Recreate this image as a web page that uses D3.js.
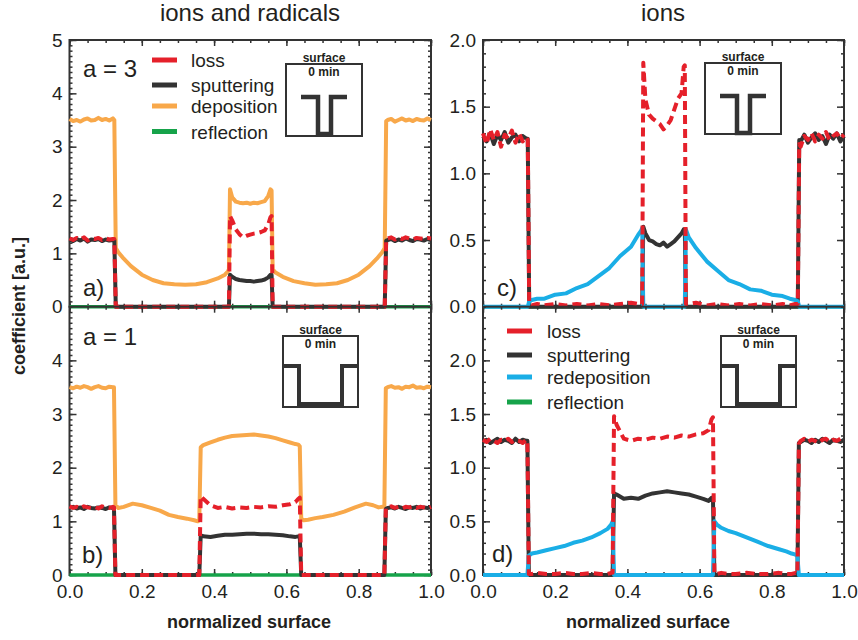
<!DOCTYPE html>
<html><head><meta charset="utf-8">
<script src="https://cdn.jsdelivr.net/npm/d3@7"></script>
<style>
body{margin:0;background:#fff}
svg{display:block}
text{font-family:"Liberation Sans",Arial,Helvetica,sans-serif;fill:#231f20}
</style>
</head><body>
<svg id="chart" width="858" height="640"></svg>
<script>
// ---------------- DATA ----------------
const xTickLabels = [0, 0.2, 0.4, 0.6, 0.8, 1.0];
const yTicksA = [0, 1, 2, 3, 4, 5];
const yTicksB = [0, 1, 2, 3, 4];
const yTicksC = [0, 0.5, 1.0, 1.5, 2.0];
const yTicksD = [0, 0.5, 1.0, 1.5, 2.0];

// x positions, narrow-trench panels (a, c)
const xNarrow = [0,0.01,0.02,0.03,0.04,0.05,0.06,0.07,0.08,0.09,0.10,0.11,0.12,
 0.124,0.128,
 0.135,0.15,0.17,0.2,0.23,0.26,0.29,0.32,0.35,0.38,0.41,0.43,0.438,
 0.441,0.444,
 0.45,0.46,0.47,0.48,0.49,0.5,0.51,0.52,0.53,0.54,0.55,0.556,
 0.559,0.562,
 0.57,0.59,0.62,0.65,0.68,0.71,0.74,0.77,0.8,0.83,0.85,0.865,
 0.872,0.876,
 0.88,0.89,0.9,0.91,0.92,0.93,0.94,0.95,0.96,0.97,0.98,0.99,1.0];

// x positions, wide-trench panels (b, d)
const xWide = [0,0.01,0.02,0.03,0.04,0.05,0.06,0.07,0.08,0.09,0.10,0.11,0.12,
 0.123,0.127,
 0.135,0.15,0.175,0.2,0.225,0.25,0.275,0.3,0.325,0.345,0.355,
 0.359,0.363,
 0.37,0.39,0.41,0.43,0.45,0.47,0.49,0.51,0.53,0.55,0.57,0.59,0.61,0.625,0.633,
 0.637,0.641,
 0.648,0.66,0.68,0.7,0.73,0.76,0.79,0.82,0.84,0.855,0.866,
 0.871,0.875,
 0.88,0.89,0.9,0.91,0.92,0.93,0.94,0.95,0.96,0.97,0.98,0.99,1.0];

const xReflection = [0, 1];
const reflection = [0, 0];

// panel a: ions and radicals, a = 3
const depositionA = [3.52,3.48,3.5,3.47,3.51,3.53,3.49,3.5,3.54,3.5,3.52,3.49,3.53,
 3.5,1.1,
 1.02,0.9,0.76,0.6,0.5,0.44,0.42,0.41,0.42,0.46,0.53,0.6,0.66,
 0.7,2.2,
 2.05,1.97,1.95,1.94,1.95,1.93,1.95,1.94,1.96,1.98,2.08,2.2,
 2.18,0.7,
 0.64,0.56,0.48,0.44,0.41,0.42,0.44,0.5,0.6,0.76,0.9,1.02,
 1.1,3.48,
 3.5,3.52,3.47,3.5,3.53,3.49,3.51,3.48,3.52,3.5,3.49,3.53,3.5];
const sputteringA = [1.26,1.23,1.27,1.24,1.28,1.22,1.26,1.25,1.27,1.23,1.26,1.24,1.25,
 1.25,0,
 0,0,0,0,0,0,0,0,0,0,0,0,0,
 0,0.6,
 0.56,0.52,0.5,0.49,0.48,0.48,0.47,0.48,0.49,0.51,0.55,0.6,
 0.6,0,
 0,0,0,0,0,0,0,0,0,0,0,0,
 0,1.24,
 1.25,1.27,1.23,1.26,1.24,1.28,1.25,1.23,1.27,1.26,1.24,1.27,1.25];
const lossA = [1.28,1.25,1.29,1.26,1.3,1.24,1.28,1.27,1.29,1.25,1.28,1.26,1.27,
 1.27,0,
 0,0,0,0,0,0,0,0,0,0,0,0,0,
 0,1.7,
 1.62,1.45,1.36,1.3,1.33,1.35,1.37,1.38,1.4,1.43,1.55,1.68,
 1.7,0,
 0,0,0,0,0,0,0,0,0,0,0,0,
 0,1.27,
 1.28,1.3,1.26,1.29,1.27,1.3,1.28,1.26,1.29,1.28,1.27,1.29,1.28];

// panel b: ions and radicals, a = 1
const depositionB = [3.5,3.48,3.51,3.49,3.52,3.5,3.47,3.5,3.52,3.49,3.48,3.51,3.5,
 3.5,1.3,
 1.25,1.27,1.33,1.3,1.25,1.2,1.12,1.08,1.05,1.02,1.0,
 1.02,2.38,
 2.42,2.47,2.52,2.56,2.59,2.6,2.61,2.62,2.6,2.58,2.55,2.51,2.47,2.44,2.43,
 2.4,1.05,
 1.02,1.03,1.06,1.08,1.12,1.18,1.26,1.33,1.3,1.26,1.27,
 1.28,3.48,
 3.5,3.52,3.49,3.5,3.47,3.51,3.5,3.53,3.49,3.5,3.48,3.51,3.5];
const sputteringB = [1.25,1.27,1.24,1.26,1.23,1.27,1.25,1.24,1.26,1.25,1.23,1.26,1.25,
 1.25,0,
 0,0,0,0,0,0,0,0,0,0,0,
 0,0.74,
 0.72,0.71,0.73,0.75,0.75,0.76,0.77,0.77,0.76,0.76,0.75,0.74,0.72,0.71,0.72,
 0.72,0,
 0,0,0,0,0,0,0,0,0,0,0,
 0,1.23,
 1.25,1.26,1.24,1.27,1.25,1.23,1.26,1.25,1.27,1.24,1.26,1.25,1.26];
const lossB = [1.28,1.25,1.27,1.24,1.28,1.26,1.25,1.27,1.24,1.28,1.26,1.25,1.27,
 1.26,0,
 0,0,0,0,0,0,0,0,0,0,0,
 0,1.47,
 1.42,1.3,1.25,1.27,1.24,1.26,1.25,1.27,1.26,1.28,1.27,1.3,1.32,1.36,1.42,
 1.44,0,
 0,0,0,0,0,0,0,0,0,0,0,
 0,1.25,
 1.26,1.28,1.25,1.27,1.24,1.27,1.26,1.28,1.25,1.27,1.26,1.24,1.27];

// panel c: ions, a = 3
const lossC = [1.3,1.22,1.33,1.25,1.31,1.2,1.29,1.26,1.32,1.23,1.3,1.24,1.27,
 1.25,0.02,
 0.01,0.02,0.01,0.02,0.01,0.02,0.01,0.02,0.01,0.02,0.03,0.02,0.02,
 0.02,1.83,
 1.55,1.44,1.41,1.39,1.37,1.33,1.36,1.4,1.48,1.56,1.6,1.8,
 1.81,0.02,
 0.02,0.03,0.01,0.02,0.01,0.02,0.01,0.02,0.01,0.02,0.01,0.02,
 0.02,1.22,
 1.2,1.28,1.25,1.3,1.24,1.29,1.26,1.31,1.25,1.28,1.3,1.26,1.29];
const sputteringC = [1.28,1.24,1.3,1.22,1.29,1.25,1.31,1.23,1.27,1.29,1.24,1.28,1.26,
 1.26,0,
 0,0,0,0,0,0,0,0,0,0,0,0,0,
 0,0.6,
 0.55,0.5,0.49,0.47,0.46,0.48,0.45,0.47,0.49,0.52,0.55,0.58,
 0.58,0,
 0,0,0,0,0,0,0,0,0,0,0,0,
 0,1.25,
 1.24,1.29,1.23,1.27,1.3,1.25,1.28,1.22,1.29,1.26,1.3,1.24,1.28];
const redepositionC = [0,0,0,0,0,0,0,0,0,0,0,0,0,
 0,0.04,
 0.05,0.06,0.06,0.09,0.1,0.14,0.17,0.23,0.29,0.38,0.45,0.54,0.57,
 0.59,0,
 0,0,0,0,0,0,0,0,0,0,0,0,
 0,0.58,
 0.52,0.44,0.34,0.27,0.2,0.17,0.13,0.12,0.09,0.08,0.06,0.05,
 0.04,0,
 0,0,0,0,0,0,0,0,0,0,0,0,0];

// panel d: ions, a = 1
const lossD = [1.26,1.24,1.27,1.25,1.23,1.26,1.25,1.27,1.24,1.26,1.25,1.23,1.26,
 1.25,0.01,
 0.01,0.02,0.01,0.01,0.02,0.01,0.01,0.02,0.01,0.01,0.02,
 0.02,1.48,
 1.4,1.27,1.25,1.27,1.26,1.28,1.27,1.29,1.28,1.3,1.29,1.31,1.32,1.35,1.45,
 1.47,0.01,
 0.01,0.02,0.01,0.01,0.02,0.01,0.01,0.02,0.01,0.01,0.02,
 0.01,1.22,
 1.25,1.27,1.24,1.26,1.25,1.23,1.26,1.27,1.24,1.26,1.25,1.27,1.24];
const sputteringD = [1.24,1.26,1.23,1.25,1.27,1.24,1.26,1.25,1.23,1.27,1.24,1.26,1.25,
 1.25,0,
 0,0,0,0,0,0,0,0,0,0,0,
 0,0.76,
 0.75,0.71,0.72,0.71,0.74,0.76,0.77,0.78,0.77,0.76,0.75,0.73,0.71,0.69,0.72,
 0.72,0,
 0,0,0,0,0,0,0,0,0,0,0,
 0,1.23,
 1.24,1.26,1.25,1.23,1.26,1.24,1.27,1.25,1.23,1.26,1.25,1.24,1.26];
const redepositionD = [0,0,0,0,0,0,0,0,0,0,0,0,0,
 0,0.18,
 0.2,0.21,0.23,0.25,0.27,0.3,0.32,0.35,0.39,0.43,0.47,
 0.5,0,
 0,0,0,0,0,0,0,0,0,0,0,0,0,0,0,
 0,0.5,
 0.47,0.44,0.41,0.39,0.35,0.31,0.27,0.24,0.22,0.2,0.19,
 0.17,0,
 0,0,0,0,0,0,0,0,0,0,0,0,0];

const legendAB = ["loss", "sputtering", "deposition", "reflection"];
const legendCD = ["loss", "sputtering", "redeposition", "reflection"];

// ---------------- STYLE ----------------
const COL = {loss:"#e5202a", sputtering:"#333333", deposition:"#f8a84a",
             redeposition:"#1aaee6", reflection:"#16a34a"};
const AX = "#333333";
const FONT = '"Liberation Sans",Arial,Helvetica,sans-serif';

const svg = d3.select("#chart");

const xL = d3.scaleLinear().domain([0,1]).range([69.5,431]);
const xR = d3.scaleLinear().domain([0,1]).range([483,844]);
const TOP = 40, MID = 306.7, BOT = 575;

const panels = [
 {x:xL, y:d3.scaleLinear().domain([0,5]).range([MID,TOP]), yTicks:yTicksA, fmt:d3.format("d"), xLabels:false,
  series:[
   {name:"reflection", xs:xReflection, ys:reflection},
   {name:"deposition", xs:xNarrow, ys:depositionA},
   {name:"sputtering", xs:xNarrow, ys:sputteringA},
   {name:"loss", xs:xNarrow, ys:lossA}]},
 {x:xL, y:d3.scaleLinear().domain([0,5]).range([BOT,MID]), yTicks:yTicksB, fmt:d3.format("d"), xLabels:true,
  series:[
   {name:"reflection", xs:xReflection, ys:reflection},
   {name:"deposition", xs:xWide, ys:depositionB},
   {name:"sputtering", xs:xWide, ys:sputteringB},
   {name:"loss", xs:xWide, ys:lossB}]},
 {x:xR, y:d3.scaleLinear().domain([0,2]).range([MID,TOP]), yTicks:yTicksC, fmt:d3.format(".1f"), xLabels:false,
  series:[
   {name:"reflection", xs:xReflection, ys:reflection},
   {name:"sputtering", xs:xNarrow, ys:sputteringC},
   {name:"redeposition", xs:xNarrow, ys:redepositionC},
   {name:"loss", xs:xNarrow, ys:lossC}]},
 {x:xR, y:d3.scaleLinear().domain([0,2.5]).range([BOT,MID]), yTicks:yTicksD, fmt:d3.format(".1f"), xLabels:true,
  series:[
   {name:"reflection", xs:xReflection, ys:reflection},
   {name:"sputtering", xs:xWide, ys:sputteringD},
   {name:"redeposition", xs:xWide, ys:redepositionD},
   {name:"loss", xs:xWide, ys:lossD}]}
];

function styleAxis(g){
  g.select(".domain").remove();
  g.selectAll(".tick line").attr("stroke",AX).attr("stroke-width",1.5);
  g.selectAll(".tick text").style("font-family",FONT).style("font-size","19px").attr("fill","#231f20");
}

panels.forEach(p=>{
  const [x0,x1] = p.x.range();
  const [y0,y1] = p.y.range(); // y0 bottom, y1 top
  const ymax = p.y.domain()[1];
  const yMinor = d3.range(0, ymax+1e-9, 0.1);
  const xMinor = d3.range(0, 1+1e-9, 0.05);
  const xMajor = xTickLabels;

  svg.append("rect").attr("x",x0).attr("y",y1).attr("width",x1-x0).attr("height",y0-y1)
    .attr("fill","none").attr("stroke",AX).attr("stroke-width",2);

  svg.append("g").attr("transform",`translate(${x0},0)`)
    .call(d3.axisLeft(p.y).tickValues(yMinor).tickSize(-3).tickFormat("")).call(styleAxis);
  svg.append("g").attr("transform",`translate(${x0},0)`)
    .call(d3.axisLeft(p.y).tickValues(p.yTicks).tickSize(-7).tickPadding(7).tickFormat(p.fmt)).call(styleAxis);
  svg.append("g").attr("transform",`translate(${x1},0)`)
    .call(d3.axisRight(p.y).tickValues(yMinor).tickSize(-3).tickFormat("")).call(styleAxis);
  svg.append("g").attr("transform",`translate(${x1},0)`)
    .call(d3.axisRight(p.y).tickValues(p.yTicks).tickSize(-7).tickFormat("")).call(styleAxis);
  svg.append("g").attr("transform",`translate(0,${y1})`)
    .call(d3.axisTop(p.x).tickValues(xMinor).tickSize(-3).tickFormat("")).call(styleAxis);
  svg.append("g").attr("transform",`translate(0,${y1})`)
    .call(d3.axisTop(p.x).tickValues(xMajor).tickSize(-6).tickFormat("")).call(styleAxis);
  svg.append("g").attr("transform",`translate(0,${y0})`)
    .call(d3.axisBottom(p.x).tickValues(xMinor).tickSize(-3).tickFormat("")).call(styleAxis);
  svg.append("g").attr("transform",`translate(0,${y0})`)
    .call(d3.axisBottom(p.x).tickValues(xMajor).tickSize(-6).tickPadding(9.5)
      .tickFormat(p.xLabels ? d3.format(".1f") : "")).call(styleAxis);

  const line = d3.line().x(d=>p.x(d[0])).y(d=>p.y(d[1]));
  p.series.forEach(s=>{
    const path = svg.append("path").datum(d3.zip(s.xs, s.ys))
      .attr("d",line).attr("fill","none").attr("stroke",COL[s.name])
      .attr("stroke-width", s.name==="reflection" ? 3.5 : 4)
      .attr("stroke-linejoin","round");
    if(s.name==="loss") path.attr("stroke-dasharray","9,5");
  });
});

// ---------------- TEXT ----------------
function txt(x,y,s,size,opts={}){
  return svg.append("text").attr("x",x).attr("y",y).text(s)
    .style("font-size",size+"px").style("font-family",FONT)
    .attr("text-anchor",opts.anchor||"start").style("font-weight",opts.bold?"bold":"normal");
}
txt(250,21,"ions and radicals",24,{anchor:"middle"});
txt(663,21,"ions",24,{anchor:"middle"});
txt(249,628,"normalized surface",18,{anchor:"middle",bold:true});
txt(648,628,"normalized surface",18,{anchor:"middle",bold:true});
svg.append("text").attr("transform","translate(25,306) rotate(-90)").attr("text-anchor","middle")
  .style("font-size","18px").style("font-weight","bold").style("font-family",FONT).text("coefficient [a.u.]");

txt(83,77,"a = 3",24);
txt(83,345,"a = 1",24);
txt(83,296,"a)",24);
txt(82,563,"b)",24);
txt(497,296,"c)",24);
txt(492,562,"d)",24);

function legend(names, x, ys, tx){
  names.forEach((n,i)=>{
    svg.append("line").attr("x1",x).attr("x2",x+25).attr("y1",ys[i]).attr("y2",ys[i])
      .attr("stroke",COL[n]).attr("stroke-width",5);
    txt(tx, ys[i]+7, n, 19);
  });
}
legend(legendAB, 152, [60,85,106,131.5], 191);
legend(legendCD, 507, [331,355,377,402], 547);

const shapeNarrow = [[15,33],[32,33],[32,70],[45,70],[45,33],[61,33]];
const shapeWide = [[0,30],[16,30],[16,68],[59,68],[59,30],[75,30]];
function inset(bx,by,bw,bh,shape,sw){
  svg.append("rect").attr("x",bx).attr("y",by).attr("width",bw).attr("height",bh)
    .attr("fill","none").attr("stroke",AX).attr("stroke-width",2);
  svg.append("path").datum(shape).attr("d",d3.line().x(d=>bx+d[0]).y(d=>by+d[1]))
    .attr("fill","none").attr("stroke",AX).attr("stroke-width",sw).attr("stroke-linejoin","miter");
  txt(bx+bw/2, by-2, "surface", 12, {anchor:"middle",bold:true});
  txt(bx+bw/2, by+12, "0 min", 12, {anchor:"middle",bold:true});
}
inset(286,64,76,72,shapeNarrow,4.5);
inset(705,63,76,71,shapeNarrow,4.5);
inset(283,336,75,71,shapeWide,4);
inset(721,336,75,71,shapeWide,4);
</script>
</body></html>
